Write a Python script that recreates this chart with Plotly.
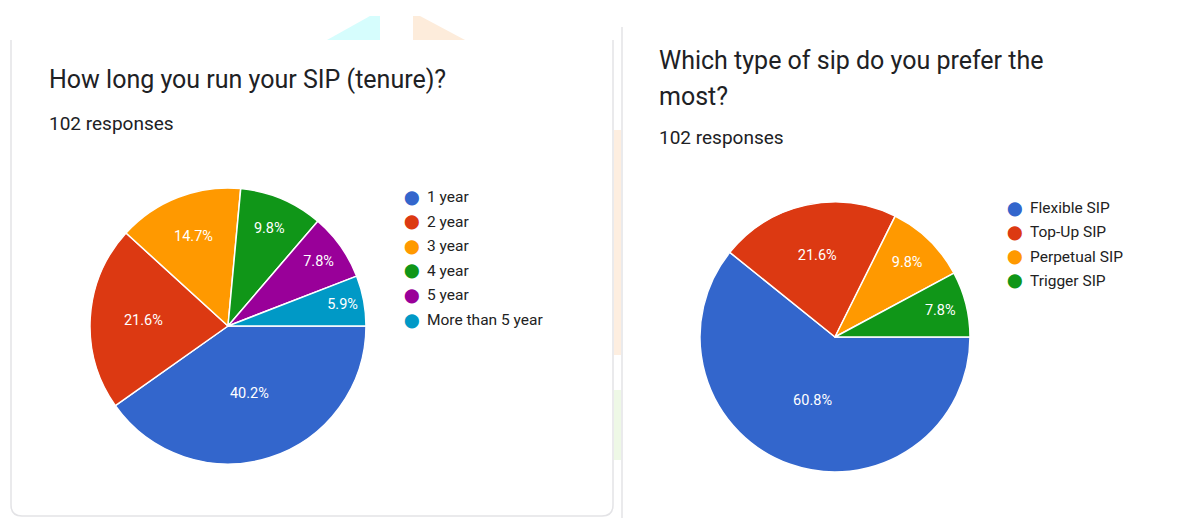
import plotly.graph_objects as go

W, H = 1200, 518
OFF = 8  # default page margin of the browser body

# ---- data ----
tenure_labels = ["1 year", "2 year", "3 year", "4 year", "5 year", "More than 5 year"]
tenure_counts = [41, 22, 15, 10, 8, 6]
tenure_title = ["How long you run your SIP (tenure)?"]

type_labels = ["Flexible SIP", "Top-Up SIP", "Perpetual SIP", "Trigger SIP"]
type_counts = [62, 22, 10, 8]
type_title = ["Which type of sip do you prefer the", "most?"]

responses_text = "102 responses"
palette = ["#3366cc", "#dc3912", "#ff9900", "#109618", "#990099", "#0099c6"]


def px(x):
    return (x - OFF) / W


def py(y):
    return 1 - (y - OFF) / H


fig = go.Figure()

pie_font = dict(family="Roboto", size=14.5, color="white")

# left pie: center (228, 326), r 138
fig.add_trace(go.Pie(
    labels=tenure_labels, values=tenure_counts, sort=False, direction="clockwise",
    rotation=90, marker=dict(colors=palette[:len(tenure_labels)], line=dict(color="white", width=1.5)),
    textinfo="percent", texttemplate="%{percent:.1%}", textposition="inside",
    insidetextorientation="horizontal", textfont=pie_font,
    domain=dict(x=[px(90), px(366)], y=[py(464), py(188)]),
    showlegend=False, hoverinfo="label+percent",
))

# right pie: center (835, 337), r 135
fig.add_trace(go.Pie(
    labels=type_labels, values=type_counts, sort=False, direction="clockwise",
    rotation=90, marker=dict(colors=palette[:len(type_labels)], line=dict(color="white", width=1.5)),
    textinfo="percent", texttemplate="%{percent:.1%}", textposition="inside",
    insidetextorientation="horizontal", textfont=pie_font,
    domain=dict(x=[px(700), px(970)], y=[py(472), py(202)]),
    showlegend=False, hoverinfo="label+percent",
))

annotations = []


def add_text(x, y, text, size, color="#202124", family="Roboto", xanchor="left"):
    annotations.append(dict(
        x=px(x), y=py(y), xref="paper", yref="paper", text=text, showarrow=False,
        xanchor=xanchor, yanchor="middle", align="left",
        font=dict(family=family, size=size, color=color),
    ))


# titles
for i, line in enumerate(tenure_title):
    add_text(47, 80 + i * 36, line, 25)
add_text(47, 123, responses_text, 19)
for i, line in enumerate(type_title):
    add_text(657, 60 + i * 36, line, 25)
add_text(657, 137, responses_text, 19)

# legends
for i, lab in enumerate(tenure_labels):
    y = 197 + i * 24.6
    add_text(412, y, "⬤", 14, color=palette[i], family="DejaVu Sans", xanchor="center")
    add_text(425, y, lab, 15.5, color="#222222")
for i, lab in enumerate(type_labels):
    y = 208 + i * 24.3
    add_text(1015, y, "⬤", 14, color=palette[i], family="DejaVu Sans", xanchor="center")
    add_text(1028, y, lab, 15.5, color="#222222")

shapes = []


def path_shape(path, fill=None, line_color=None, width=1):
    shapes.append(dict(
        type="path", xref="paper", yref="paper", path=path,
        fillcolor=fill if fill else "rgba(0,0,0,0)",
        line=dict(color=line_color if line_color else "rgba(0,0,0,0)", width=width),
        layer="below",
    ))


def P(x, y):
    return f"{px(x):.5f},{py(y):.5f}"


# card borders
path_shape(f"M {P(11,40)} L {P(11,505)} Q {P(11,516)} {P(22,516)} L {P(602,516)} Q {P(613,516)} {P(613,505)} L {P(613,40)}",
           line_color="#e3e3e6", width=1.5)
path_shape(f"M {P(622,27)} L {P(622,518)}", line_color="#e3e3e6", width=1.5)
# decorative shapes at top
path_shape(f"M {P(327,40)} L {P(370,16)} L {P(380,16)} L {P(380,40)} Z", fill="#d6fdfd")
path_shape(f"M {P(413,40)} L {P(413,16)} L {P(420,16)} L {P(465,40)} Z", fill="#fdecdb")
# faint side strips
path_shape(f"M {P(614,130)} L {P(621,130)} L {P(621,355)} L {P(614,355)} Z", fill="#fdeee0")
path_shape(f"M {P(614,390)} L {P(621,390)} L {P(621,460)} L {P(614,460)} Z", fill="#eef8e6")

fig.update_layout(
    width=W, height=H, margin=dict(l=0, r=0, t=0, b=0),
    paper_bgcolor="white", plot_bgcolor="white",
    annotations=annotations, shapes=shapes,
)

fig.write_html("out.html")
